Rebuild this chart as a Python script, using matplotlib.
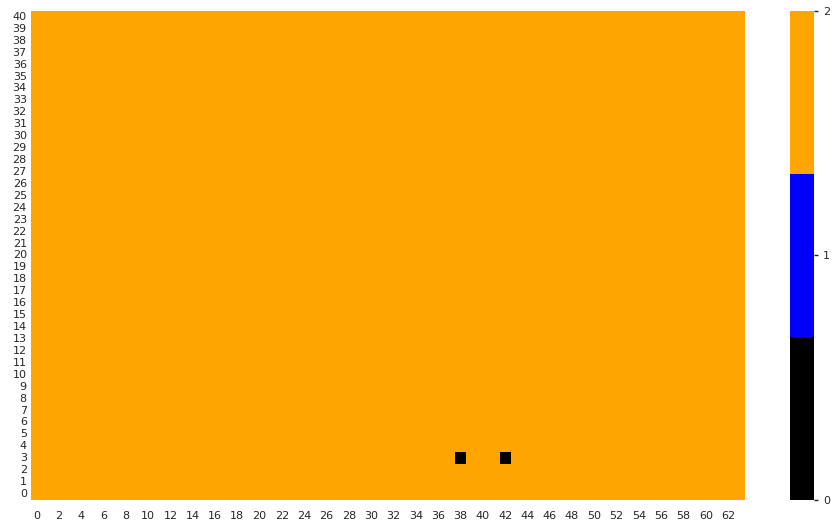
import numpy as np
import matplotlib
matplotlib.use("Agg")
import matplotlib.pyplot as plt
from matplotlib.colors import ListedColormap
import seaborn as sns

# ── grid data ────────────────────────────────────────────────────────────────
N_ROWS = 41
N_COLS = 64
FILL_VALUE = 2
# (row, col) cells that hold a different value
SPECIAL_CELLS = [(3, 38), (3, 42)]
SPECIAL_VALUES = [0, 0]
CBAR_TICKS = [0, 1, 2]
COLORS = ["black", "blue", "orange"]

grid = np.full((N_ROWS, N_COLS), FILL_VALUE, dtype=float)
for (r, c), v in zip(SPECIAL_CELLS, SPECIAL_VALUES):
    grid[r, c] = v

sns.set_theme(style="white")

fig = plt.figure(figsize=(8.37, 5.27), dpi=100)
ax = fig.add_axes([0.037, 0.0512, 0.853, 0.928])
cax = fig.add_axes([0.944, 0.0512, 0.0287, 0.928])

sns.heatmap(grid, ax=ax, cbar_ax=cax, cmap=ListedColormap(COLORS),
            vmin=0, vmax=2, xticklabels=2, yticklabels=1,
            cbar_kws={"ticks": CBAR_TICKS})
ax.invert_yaxis()
ax.tick_params(axis="both", labelsize=8, colors="#262626", length=0, pad=3)
ax.tick_params(axis="x", pad=8)
ax.set_yticklabels(ax.get_yticklabels(), rotation=0)
ax.set_xticklabels(ax.get_xticklabels(), rotation=0)

cax.tick_params(labelsize=8, colors="#262626", length=3, width=1, right=True)
for s in cax.spines.values():
    s.set_visible(False)

fig.savefig("out.png", dpi=100)
